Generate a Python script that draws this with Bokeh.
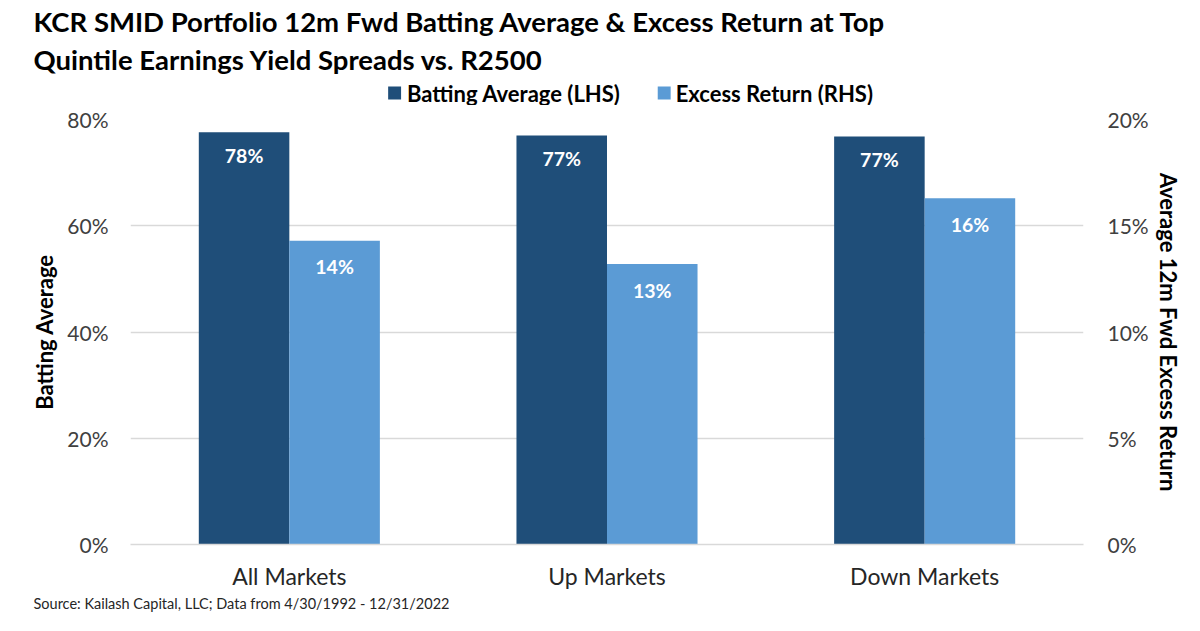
from bokeh.plotting import figure
from bokeh.models import (Range1d, LinearAxis, FactorRange, ColumnDataSource, CustomJSTickFormatter,
                          Title)
from bokeh.layouts import column
from bokeh.transform import dodge
from bokeh.embed import file_html
from bokeh.resources import INLINE
from bokeh.core.properties import value

categories = ["All Markets", "Up Markets", "Down Markets"]
batting_avg = [77.6, 77.0, 76.8]
excess_ret = [14.3, 13.2, 16.3]
batting_labels = ["78%", "77%", "77%"]
excess_labels = ["14%", "13%", "16%"]
left_ticks = [0, 20, 40, 60, 80]
right_ticks = [0, 5, 10, 15, 20]
series_names = ["Batting Average (LHS)", "Excess Return (RHS)"]
title_lines = ["KCR SMID Portfolio 12m Fwd Batting Average & Excess Return at Top",
               "Quintile Earnings Yield Spreads vs. R2500"]
source_note = "Source: Kailash Capital, LLC; Data from 4/30/1992 - 12/31/2022"

FONT = "Lato"
DARK = "#1F4E79"
LIGHT = "#5B9BD5"
W = 1184
FL, FR = 130, 96          # frame left border / right border
H_HEAD, HEAD_TOP = 105, 76
H_MAIN = 510

# ---------------- header: titles (side panel) + legend (in frame, pixel coordinates)
head = figure(width=W, height=H_HEAD, x_range=Range1d(FL, W - FR), y_range=Range1d(H_HEAD, HEAD_TOP),
              output_backend="svg", toolbar_location=None, title=None,
              x_axis_type=None, y_axis_type=None,
              min_border_left=FL, min_border_right=FR, min_border_top=HEAD_TOP, min_border_bottom=0)
head.outline_line_color = None
head.xgrid.grid_line_color = None
head.ygrid.grid_line_color = None
head.add_layout(Title(text=title_lines[1], align="left", offset=33 - FL, standoff=2,
                      text_font=FONT, text_font_style="bold", text_font_size="27.5px",
                      text_color="black"), "above")
head.add_layout(Title(text=title_lines[0], align="left", offset=33 - FL, standoff=4,
                      text_font=FONT, text_font_style="bold", text_font_size="27.5px",
                      text_color="black"), "above")
head.rect(x=[395.5, 666.5], y=[92.5, 92.5], width=13, height=13,
          fill_color=[DARK, LIGHT], line_color=None)
head.text(x=[408, 678], y=[92.5, 92.5], text=series_names, text_font=value(FONT),
          text_font_style="bold", text_font_size="22px", text_color="black",
          text_baseline="middle")

# ---------------- main chart
p = figure(width=W, height=H_MAIN, x_range=FactorRange(*categories), y_range=Range1d(0, 80),
           output_backend="svg", toolbar_location=None, title=None,
           min_border_left=FL, min_border_right=FR, min_border_top=14, min_border_bottom=70)
p.extra_y_ranges = {"ret": Range1d(0, 20)}
p.outline_line_color = None
p.xgrid.grid_line_color = None
p.ygrid.grid_line_color = "#D9D9D9"
p.ygrid.grid_line_width = 1.5
p.ygrid.ticker = left_ticks

src = ColumnDataSource(dict(cat=categories, ba=batting_avg, er=excess_ret,
                            bal=batting_labels, erl=excess_labels))
w = 0.285
p.vbar(x=dodge("cat", -w / 2, range=p.x_range), top="ba", width=w, source=src,
       fill_color=DARK, line_color=None)
p.vbar(x=dodge("cat", w / 2, range=p.x_range), top="er", width=w, source=src,
       fill_color=LIGHT, line_color=None, y_range_name="ret")
p.text(x=dodge("cat", -w / 2, range=p.x_range), y="ba", text="bal", source=src,
       text_color="white", text_font=value(FONT), text_font_style="bold", text_font_size="19.5px",
       text_align="center", text_baseline="middle", y_offset=23)
p.text(x=dodge("cat", w / 2, range=p.x_range), y="er", text="erl", source=src, y_range_name="ret",
       text_color="white", text_font=value(FONT), text_font_style="bold", text_font_size="19.5px",
       text_align="center", text_baseline="middle", y_offset=26)

pct = "return tick + '%'"
p.yaxis[0].ticker = left_ticks
p.yaxis[0].formatter = CustomJSTickFormatter(code=pct)
p.yaxis[0].axis_label = "Batting Average"

rax = LinearAxis(y_range_name="ret", ticker=right_ticks,
                 formatter=CustomJSTickFormatter(code=pct),
                 axis_label="Average 12m Fwd Excess Return")
p.add_layout(rax, "right")

for ax in [p.yaxis[0], rax]:
    ax.axis_line_color = None
    ax.major_tick_line_color = None
    ax.minor_tick_line_color = None
    ax.major_tick_out = 0
    ax.major_tick_in = 0
    ax.minor_tick_out = 0
    ax.major_label_text_font = FONT
    ax.major_label_text_font_size = "21px"
    ax.major_label_text_color = "#404040"
    ax.axis_label_text_font = FONT
    ax.axis_label_text_font_style = "bold"
    ax.axis_label_text_font_size = "22px"
    ax.axis_label_text_color = "black"
p.yaxis[0].major_label_standoff = 22
rax.major_label_standoff = 24
p.yaxis[0].axis_label_standoff = 6
rax.axis_label_standoff = 3

xa = p.xaxis[0]
xa.axis_line_color = "#D9D9D9"
xa.axis_line_width = 1.5
xa.major_tick_line_color = None
xa.minor_tick_line_color = None
xa.major_tick_out = 0
xa.major_tick_in = 0
xa.major_label_text_font = FONT
xa.major_label_text_font_size = "23px"
xa.major_label_text_color = "#262626"
xa.major_label_standoff = 17

p.add_layout(Title(text=source_note, align="left", offset=33 - FL, standoff=4,
                   vertical_align="top", text_font=FONT, text_font_size="14.5px",
                   text_font_style="normal", text_color="#262626"), "below")

layout = column(head, p, spacing=0)
open("out.html", "w").write(file_html(layout, INLINE))
